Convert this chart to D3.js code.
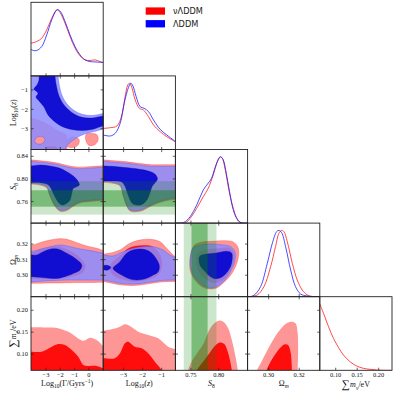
<!DOCTYPE html>
<html><head><meta charset="utf-8">
<script src="https://cdn.jsdelivr.net/npm/d3@7"></script>
<style>body{margin:0;background:#fff}svg{display:block}</style>
</head><body>
<svg id="c" width="396" height="395"></svg>
<script>
// ---------------- DATA ----------------
const paramRanges = [[-4.05, 1.0], [-4.07, -0.28], [0.722, 0.852], [0.2862, 0.3335], [0.063, 0.231]];
const xTickVals = [[-3,-2,-1,0],[-3,-2,-1],[0.75,0.80],[0.30,0.32],[0.10,0.15,0.20]];
const xTickText = [["−3","−2","−1","0"],["−3","−2","−1"],["0.75","0.80"],["0.30","0.32"],["0.10","0.15","0.20"]];
const yTickVals = [[],[-3,-2,-1],[0.76,0.80,0.84],[0.30,0.31,0.32],[0.10,0.15,0.20]];
const yTickText = [[],["−3","−2","−1"],["0.76","0.80","0.84"],["0.30","0.31","0.32"],["0.10","0.15","0.20"]];
const seriesNames = ["νΛDDM", "ΛDDM"];
const s8Band1 = [0.751, 0.780];
const s8Band2 = [0.737, 0.796];

// 1D marginals [value, relative density]
const gamma1dRed = [[-4.05,0.493],[-3.65,0.518],[-3.30,0.569],[-2.95,0.695],[-2.60,0.871],[-2.30,0.987],[-2.21,0.997],[-2.02,0.956],[-1.67,0.795],[-1.32,0.594],[-0.97,0.418],[-0.62,0.302],[-0.27,0.242],[0.08,0.232],[0.43,0.242],[0.78,0.216],[1.0,0.201]];
const gamma1dBlue = [[-4.05,0.403],[-3.89,0.383],[-3.65,0.383],[-3.30,0.443],[-2.95,0.619],[-2.60,0.846],[-2.30,0.982],[-2.19,1.0],[-1.98,0.967],[-1.67,0.821],[-1.32,0.619],[-0.97,0.443],[-0.62,0.317],[-0.27,0.242],[0.08,0.216],[0.43,0.211],[0.78,0.206],[1.0,0.201]];
const logz1dRed = [[-4.07,0.318],[-3.70,0.329],[-3.35,0.354],[-3.09,0.520],[-2.92,0.797],[-2.78,0.973],[-2.69,0.998],[-2.57,0.938],[-2.39,0.747],[-2.17,0.621],[-1.96,0.596],[-1.69,0.495],[-1.43,0.370],[-1.08,0.269],[-0.73,0.193],[-0.38,0.133],[-0.28,0.118]];
const logz1dBlue = [[-4.07,0.219],[-3.70,0.204],[-3.44,0.244],[-3.18,0.395],[-2.97,0.696],[-2.74,0.938],[-2.62,1.0],[-2.51,0.958],[-2.34,0.797],[-2.13,0.646],[-1.92,0.621],[-1.69,0.571],[-1.43,0.445],[-1.08,0.304],[-0.73,0.219],[-0.38,0.143],[-0.28,0.118]];
const s81dRed = [[0.722,0],[0.7397,0.003],[0.7486,0.072],[0.7604,0.223],[0.7722,0.399],[0.7811,0.524],[0.7900,0.725],[0.7988,0.952],[0.8030,1.0],[0.8065,0.977],[0.8124,0.776],[0.8183,0.499],[0.8254,0.248],[0.8313,0.097],[0.8372,0.022],[0.8431,0],[0.852,0]];
const s81dBlue = [[0.722,0],[0.735,0.005],[0.7397,0.022],[0.7486,0.097],[0.7604,0.273],[0.7722,0.499],[0.7870,0.675],[0.7929,0.826],[0.7988,0.952],[0.8030,1.0],[0.8077,0.962],[0.8136,0.751],[0.8195,0.474],[0.8254,0.223],[0.8313,0.087],[0.8372,0.017],[0.8431,0],[0.852,0]];
const om1dRed = [[0.2862,0],[0.2871,0],[0.2925,0.026],[0.2969,0.151],[0.3013,0.453],[0.3045,0.755],[0.3067,0.956],[0.3085,1.0],[0.3100,0.981],[0.3122,0.830],[0.3155,0.503],[0.3187,0.252],[0.3220,0.101],[0.3253,0.026],[0.3297,0],[0.3335,0]];
const om1dBlue = [[0.2862,0],[0.2871,0],[0.2903,0.02],[0.2947,0.151],[0.2991,0.503],[0.3024,0.805],[0.3052,0.981],[0.3067,1.0],[0.3085,0.966],[0.3111,0.755],[0.3144,0.403],[0.3176,0.151],[0.3209,0.041],[0.3253,0.01],[0.3297,0],[0.3335,0]];
const mnu1dRed = [[0.063,1.0],[0.0717,0.859],[0.0833,0.658],[0.0948,0.482],[0.1064,0.346],[0.1180,0.231],[0.1334,0.130],[0.1488,0.065],[0.1642,0.030],[0.1797,0.015],[0.1951,0.005],[0.2105,0.0],[0.231,0.0]];

// 2D: log10(z) vs log10(Gamma)
const zgBlue2 = [[-4.3,-0.1],[-2.17,-0.1],[-2.16,-0.28],[-2.06,-0.80],[-1.88,-1.29],[-1.53,-1.73],[-1.04,-2.06],[-0.41,-2.27],[0.22,-2.32],[1.0,-2.22],[1.2,-2.18],[1.2,-2.98],[1.0,-3.01],[0.50,-3.12],[-0.06,-3.22],[-0.62,-3.37],[-1.18,-3.63],[-1.53,-3.86],[-1.67,-4.07],[-1.70,-4.3],[-4.3,-4.3]];
const zgBlue2Hole = [[-3.70,-3.48],[-3.28,-3.40],[-3.07,-3.58],[-3.35,-3.79],[-3.77,-3.71]];
const zgBlue1 = [[-3.49,-0.1],[-2.37,-0.1],[-2.37,-0.285],[-2.27,-0.80],[-2.09,-1.315],[-1.74,-1.78],[-1.22,-2.15],[-0.55,-2.40],[0.15,-2.45],[1.0,-2.345],[1.2,-2.33],[1.2,-2.87],[1.0,-2.86],[0.19,-3.04],[-0.50,-3.09],[-1.20,-3.04],[-1.88,-2.885],[-2.37,-2.65],[-2.86,-2.29],[-3.14,-1.88],[-3.49,-1.57],[-3.70,-1.37],[-3.56,-1.16],[-3.84,-0.955],[-3.63,-0.75],[-3.49,-0.49],[-3.49,-0.285]];
const zgRed2 = [[-4.3,-2.44],[-4.05,-2.45],[-3.07,-2.71],[-2.16,-3.12],[-1.60,-3.32],[-1.58,-3.7],[-1.60,-4.3],[-4.3,-4.3]];
const zgRed2B = [[-0.20,-3.30],[0.22,-3.25],[0.57,-3.32],[0.64,-3.58],[0.43,-3.81],[0.01,-3.86],[-0.20,-3.63]];
const zgRed2C = [[-1.46,-3.53],[-1.04,-3.43],[-0.69,-3.55],[-0.76,-3.84],[-1.18,-3.97],[-1.53,-3.89]];
const zgRed1 = [[-2.93,-4.2],[-2.93,-3.96],[-2.51,-3.92],[-2.23,-3.97],[-2.23,-4.2]];

// 2D: S8 vs log10(Gamma)
const sgBlue2Top = [[-4.3,0.8315],[-4.05,0.8312],[-3.54,0.8299],[-2.84,0.8281],[-2.14,0.8251],[-1.44,0.8206],[-0.74,0.8181],[0.19,0.8193],[1.0,0.8206],[1.2,0.8208]];
const sgBlue2Bot = [[1.2,0.7642],[1.0,0.7640],[0.31,0.7628],[-0.155,0.7615],[-0.62,0.7598],[-1.09,0.7539],[-1.55,0.7463],[-2.02,0.7451],[-2.37,0.7539],[-2.72,0.7716],[-2.95,0.7863],[-3.42,0.7910],[-4.05,0.7928],[-4.3,0.7930]];
const sgRed2Top = [[-4.3,0.8340],[-4.05,0.8337],[-3.54,0.8324],[-2.84,0.8306],[-2.14,0.8277],[-1.44,0.8232],[-0.74,0.8208],[0.19,0.8220],[1.0,0.8232],[1.2,0.8234]];
const sgRed2Bot = [[1.2,0.7622],[1.0,0.7620],[0.31,0.7608],[-0.155,0.7596],[-0.62,0.7578],[-1.09,0.7518],[-1.55,0.7442],[-2.02,0.7430],[-2.37,0.7516],[-2.72,0.7696],[-2.95,0.7845],[-3.42,0.7892],[-4.05,0.7910],[-4.3,0.7912]];
const sgBlue1 = [[-4.3,0.8228],[-4.05,0.8228],[-3.42,0.8246],[-2.72,0.8228],[-2.02,0.8188],[-1.55,0.8128],[-1.09,0.8052],[-0.74,0.7951],[-0.67,0.7893],[-0.85,0.7863],[-1.09,0.7834],[-1.20,0.7746],[-1.32,0.7628],[-1.55,0.7569],[-1.79,0.7539],[-2.02,0.7557],[-2.25,0.7628],[-2.49,0.7746],[-2.72,0.7863],[-2.95,0.7910],[-3.42,0.7933],[-4.05,0.7933],[-4.3,0.7933]];

// 2D: S8 vs log10(z)
const szBlue2Top = [[-4.3,0.8315],[-4.07,0.8312],[-3.63,0.8299],[-2.93,0.8281],[-2.23,0.8251],[-1.53,0.8223],[-0.80,0.8223],[-0.28,0.8223],[-0.1,0.8223]];
const szBlue2Bot = [[-0.1,0.7665],[-0.28,0.7663],[-0.83,0.7633],[-1.36,0.7575],[-1.71,0.7516],[-2.05,0.7456],[-2.41,0.7439],[-2.67,0.7456],[-2.84,0.7545],[-3.02,0.7721],[-3.19,0.7898],[-3.63,0.7946],[-4.07,0.7958],[-4.3,0.7960]];
const szRed2Top = [[-4.3,0.8340],[-4.07,0.8337],[-3.63,0.8324],[-2.93,0.8306],[-2.23,0.8276],[-1.53,0.8250],[-0.80,0.8252],[-0.28,0.8252],[-0.1,0.8252]];
const szRed2Bot = [[-0.1,0.7643],[-0.28,0.7641],[-0.83,0.7612],[-1.36,0.7555],[-1.71,0.7496],[-2.05,0.7436],[-2.41,0.7419],[-2.67,0.7436],[-2.84,0.7525],[-3.02,0.7700],[-3.19,0.7878],[-3.63,0.7928],[-4.07,0.7940],[-4.3,0.7942]];
const szBlue1 = [[-4.3,0.8228],[-4.07,0.8228],[-3.46,0.8220],[-2.93,0.8202],[-2.23,0.8175],[-1.71,0.8140],[-1.36,0.8087],[-1.22,0.7999],[-1.36,0.7928],[-1.49,0.7875],[-1.62,0.7751],[-1.78,0.7628],[-2.04,0.7548],[-2.32,0.7539],[-2.56,0.7575],[-2.76,0.7716],[-2.93,0.7875],[-3.10,0.7946],[-3.46,0.7963],[-4.07,0.7963],[-4.3,0.7963]];

// 2D: Omega_m vs log10(Gamma)
const ogRed2Top = [[-4.3,0.3180],[-4.05,0.3188],[-3.42,0.3209],[-2.72,0.3226],[-2.02,0.3235],[-1.55,0.3231],[-0.85,0.3209],[-0.155,0.3188],[0.54,0.3173],[1.0,0.3158],[1.2,0.3152]];
const ogRed2Bot = [[1.2,0.2955],[1.0,0.2955],[-0.2,0.2953],[-1.5,0.2952],[-2.8,0.2950],[-4.05,0.2948],[-4.3,0.2948]];
const ogBlue2Top = [[-4.3,0.3145],[-4.05,0.3151],[-3.42,0.3167],[-2.72,0.3183],[-2.02,0.3194],[-1.55,0.3188],[-0.85,0.3173],[-0.155,0.3162],[0.54,0.3151],[1.0,0.3141],[1.2,0.3137]];
const ogBlue2Bot = [[1.2,0.2969],[1.0,0.2969],[-0.5,0.2969],[-1.55,0.2969],[-2.72,0.2965],[-4.05,0.2958],[-4.3,0.2958]];
const ogRed1 = [[-4.3,0.3143],[-4.05,0.3143],[-3.21,0.3169],[-2.16,0.3185],[-1.46,0.3162],[-0.76,0.3124],[-0.27,0.3066],[-0.41,0.3021],[-1.32,0.2989],[-2.37,0.2976],[-4.05,0.2979],[-4.3,0.2979]];
const ogBlue1 = [[-4.3,0.3130],[-4.05,0.3130],[-3.65,0.3130],[-3.19,0.3151],[-2.72,0.3167],[-2.13,0.3167],[-1.55,0.3141],[-0.97,0.3109],[-0.50,0.3066],[-0.62,0.3034],[-0.97,0.3016],[-1.55,0.2995],[-2.13,0.2980],[-2.72,0.2980],[-3.42,0.2987],[-4.05,0.2991],[-4.3,0.2991]];

// 2D: Omega_m vs log10(z)
const ozRed2Top = [[-4.3,0.3134],[-4.07,0.3136],[-3.72,0.3141],[-3.19,0.3162],[-2.67,0.3205],[-2.14,0.3226],[-1.62,0.3231],[-1.09,0.3215],[-0.74,0.3173],[-0.40,0.3130],[-0.28,0.3119],[-0.1,0.3105]];
const ozRed2Bot = [[-0.1,0.2958],[-0.28,0.2960],[-1.09,0.2956],[-1.79,0.2943],[-2.50,0.2934],[-3.19,0.2939],[-4.07,0.2960],[-4.3,0.2962]];
const ozBlue2Top = [[-4.3,0.3130],[-4.07,0.3130],[-3.55,0.3124],[-3.02,0.3151],[-2.50,0.3173],[-1.97,0.3183],[-1.45,0.3183],[-0.92,0.3162],[-0.57,0.3130],[-0.28,0.3115],[-0.1,0.3108]];
const ozBlue2Bot = [[-0.1,0.2969],[-0.28,0.2969],[-1.09,0.2965],[-1.79,0.2952],[-2.50,0.2943],[-3.19,0.2948],[-4.07,0.2969],[-4.3,0.2969]];
const ozRed1 = [[-3.72,0.3060],[-3.19,0.3124],[-2.67,0.3176],[-1.98,0.3191],[-1.46,0.3182],[-1.09,0.3130],[-0.99,0.3060],[-1.20,0.3001],[-2.14,0.2963],[-2.93,0.2969],[-3.61,0.3008]];
const ozBlue1 = [[-3.55,0.3045],[-3.19,0.3087],[-2.84,0.3141],[-2.50,0.3162],[-1.97,0.3167],[-1.62,0.3151],[-1.36,0.3119],[-1.13,0.3066],[-1.18,0.3023],[-1.45,0.3001],[-1.79,0.2980],[-2.32,0.2969],[-2.76,0.2980],[-3.10,0.3001],[-3.46,0.3029]];
const ozBlue1b = [[-4.3,0.3063],[-4.07,0.3063],[-3.82,0.3063],[-3.67,0.3050],[-3.82,0.3034],[-4.07,0.3034],[-4.3,0.3034]];

// 2D: Omega_m vs S8
const osRed2 = [[0.7570,0.3196],[0.7719,0.3214],[0.7899,0.3218],[0.8079,0.3222],[0.8260,0.3214],[0.8350,0.3175],[0.8350,0.3111],[0.8290,0.3046],[0.8200,0.2993],[0.8079,0.2950],[0.7961,0.2918],[0.7809,0.2913],[0.7690,0.2929],[0.7570,0.2971],[0.7492,0.3025],[0.7479,0.3090],[0.7510,0.3154]];
const osRed1 = [[0.7629,0.3143],[0.7780,0.3164],[0.7989,0.3171],[0.8188,0.3175],[0.8272,0.3143],[0.8260,0.3079],[0.8188,0.3021],[0.8079,0.2971],[0.7930,0.2950],[0.7780,0.2971],[0.7660,0.3014],[0.7600,0.3067]];
const osBlue2 = [[0.7539,0.3175],[0.7690,0.3196],[0.7870,0.3201],[0.8051,0.3196],[0.8200,0.3186],[0.8290,0.3154],[0.8290,0.3090],[0.8231,0.3036],[0.8141,0.2982],[0.8020,0.2939],[0.7870,0.2918],[0.7750,0.2929],[0.7629,0.2961],[0.7539,0.3003],[0.7492,0.3068],[0.7497,0.3132]];
const osBlue1 = [[0.7660,0.3122],[0.7780,0.3136],[0.7961,0.3143],[0.8141,0.3154],[0.8231,0.3143],[0.8242,0.3100],[0.8200,0.3046],[0.8110,0.3003],[0.8020,0.2982],[0.7930,0.2978],[0.7840,0.2993],[0.7750,0.3025],[0.7672,0.3057],[0.7647,0.3090]];

// 2D: sum m_nu (nu-LDDM only), upper edges of regions
const mgRed2 = [[-4.3,0.1611],[-4.05,0.1611],[-3.07,0.1607],[-2.37,0.1602],[-1.44,0.1511],[-0.39,0.1305],[0.08,0.1374],[0.54,0.1321],[1.0,0.1184],[1.2,0.1140]];
const mgRed1 = [[-4.3,0.1054],[-4.05,0.1054],[-3.30,0.1054],[-2.60,0.1168],[-2.14,0.1230],[-1.67,0.1207],[-1.20,0.1093],[-0.74,0.0940],[-0.39,0.0751],[-0.04,0.0728],[0.54,0.0728],[1.0,0.0675],[1.2,0.0660]];
const mzRed2 = [[-4.3,0.1530],[-4.07,0.1534],[-3.63,0.1566],[-3.19,0.1625],[-2.93,0.1680],[-2.67,0.1641],[-2.23,0.1511],[-1.71,0.1436],[-1.18,0.1360],[-0.66,0.1168],[-0.28,0.1109],[-0.1,0.1080]];
const mzRed1 = [[-4.3,0.0904],[-4.07,0.0904],[-3.46,0.0904],[-3.19,0.1018],[-2.93,0.1246],[-2.76,0.1283],[-2.41,0.1168],[-2.05,0.1132],[-1.71,0.1018],[-1.36,0.0826],[-1.0,0.0630],[-0.9,0.0500]];
const msRed2 = [[0.7440,0.05],[0.7449,0.063],[0.7510,0.0826],[0.7629,0.1054],[0.7732,0.1253],[0.7804,0.1481],[0.7876,0.1641],[0.7948,0.1732],[0.8020,0.1767],[0.8092,0.1732],[0.8170,0.1589],[0.8236,0.1321],[0.8290,0.1018],[0.8344,0.063],[0.8350,0.05]];
const msRed1 = [[0.7590,0.05],[0.7606,0.063],[0.7714,0.0819],[0.7822,0.1002],[0.7930,0.1184],[0.8020,0.1264],[0.8101,0.1230],[0.8164,0.1047],[0.8209,0.0819],[0.8236,0.063],[0.8245,0.05]];
const moRed2 = [[0.2915,0.05],[0.2924,0.063],[0.2953,0.0826],[0.2986,0.1054],[0.3029,0.1321],[0.3073,0.1549],[0.3117,0.1703],[0.3150,0.1739],[0.3176,0.1703],[0.3189,0.1511],[0.3193,0.1168],[0.3190,0.063],[0.3189,0.05]];
const moRed1 = [[0.2978,0.05],[0.2986,0.063],[0.3007,0.0789],[0.3040,0.0979],[0.3073,0.1132],[0.3106,0.1223],[0.3127,0.1207],[0.3143,0.1054],[0.3150,0.0826],[0.3152,0.063],[0.3152,0.05]];

// ---------------- DRAWING ----------------
const svg = d3.select("#c");
const L = 31, T = 2.3, PW = 72.2, PH = 73.6, N = 5;
const SERIF = "'Liberation Serif','DejaVu Serif',serif";
const col = {
  red2: "rgb(255,150,150)", red1: "rgb(255,0,0)",
  blue2: "rgb(140,140,255)", blue1: "rgb(8,6,208)",
  green: "rgb(0,128,0)", redLine: "rgb(255,30,30)", blueLine: "rgb(30,30,255)"
};
const xs = paramRanges.map((r,i) => d3.scaleLinear().domain(r).range([L+i*PW, L+(i+1)*PW]));
const ys = paramRanges.map((r,i) => d3.scaleLinear().domain(r).range([T+(i+1)*PH, T+i*PH]));
const pyScale = i => d3.scaleLinear().domain([0,1.11]).range([T+(i+1)*PH, T+i*PH]);
const defs = svg.append("defs");

function panel(i, j){
  const id = "clip"+i+"_"+j;
  defs.append("clipPath").attr("id", id).append("rect")
    .attr("x", L+j*PW).attr("y", T+i*PH).attr("width", PW).attr("height", PH);
  return svg.append("g").attr("clip-path", "url(#"+id+")");
}
function lineGen(sx, sy, closed){
  return d3.line().x(d=>sx(d[0])).y(d=>sy(d[1]))
    .curve(closed ? d3.curveCatmullRomClosed.alpha(0.5) : d3.curveCatmullRom.alpha(0.5));
}
function shapeD(pts, sx, sy, closed){ return lineGen(sx, sy, closed)(pts) + (closed ? "" : "Z"); }
function bandD(top, bot, sx, sy){
  const l = lineGen(sx, sy, false);
  return l(top) + l(bot).replace(/^M/, "L") + "Z";
}
function fillPath(g, d, fill, op, stroke, sw){
  g.append("path").attr("d", d).attr("fill", fill).attr("fill-opacity", op)
   .attr("fill-rule", "evenodd")
   .attr("stroke", stroke || "none").attr("stroke-width", sw || 0).attr("stroke-opacity", 0.85);
}
const R2 = (g,d)=>fillPath(g,d,col.red2,1,"rgb(255,70,70)",0.5);
const R1 = (g,d)=>fillPath(g,d,col.red1,0.92,"rgb(230,0,0)",0.4);
const B2 = (g,d)=>fillPath(g,d,col.blue2,0.85,"rgb(90,90,255)",0.5);
const B1 = (g,d)=>fillPath(g,d,col.blue1,0.93,"rgb(0,0,170)",0.4);

function hBand(g, j, i){
  const sx = xs[j], sy = ys[i];
  [[s8Band2,0.2],[s8Band1,0.4]].forEach(([b,op])=>{
    g.append("rect").attr("x", sx.range()[0]).attr("width", PW)
      .attr("y", sy(b[1])).attr("height", sy(b[0]) - sy(b[1]))
      .attr("fill", col.green).attr("fill-opacity", op);
  });
}
function vBand(g, j, i){
  const sx = xs[j], sy = ys[i];
  [[s8Band2,0.2],[s8Band1,0.4]].forEach(([b,op])=>{
    g.append("rect").attr("y", sy.range()[1]).attr("height", PH)
      .attr("x", sx(b[0])).attr("width", sx(b[1]) - sx(b[0]))
      .attr("fill", col.green).attr("fill-opacity", op);
  });
}

// ---- 1D panels ----
const oneD = [[gamma1dRed, gamma1dBlue],[logz1dRed, logz1dBlue],[s81dRed, s81dBlue],[om1dRed, om1dBlue],[mnu1dRed, null]];
oneD.forEach((pair, i)=>{
  const g = panel(i, i);
  const sy = pyScale(i);
  const l = d3.line().x(d=>xs[i](d[0])).y(d=>sy(d[1])).curve(d3.curveCatmullRom.alpha(0.5));
  if (pair[0]) g.append("path").attr("d", l(pair[0])).attr("fill","none").attr("stroke", col.redLine).attr("stroke-width", 0.8);
  if (pair[1]) g.append("path").attr("d", l(pair[1])).attr("fill","none").attr("stroke", col.blueLine).attr("stroke-width", 0.8);
});

// ---- 2D panels ----
{ // row1 col0
  const g = panel(1,0), sx = xs[0], sy = ys[1];
  R2(g, shapeD(zgRed2, sx, sy));
  R2(g, shapeD(zgRed2B, sx, sy, true));
  R2(g, shapeD(zgRed2C, sx, sy, true));
  R1(g, shapeD(zgRed1, sx, sy));
  B2(g, shapeD(zgBlue2, sx, sy) + shapeD(zgBlue2Hole, sx, sy, true));
  B1(g, shapeD(zgBlue1, sx, sy));
}
{ // row2 col0
  const g = panel(2,0), sx = xs[0], sy = ys[2];
  R2(g, bandD(sgRed2Top, sgRed2Bot, sx, sy));
  B2(g, bandD(sgBlue2Top, sgBlue2Bot, sx, sy));
  B1(g, shapeD(sgBlue1, sx, sy));
  hBand(g, 0, 2);
}
{ // row2 col1
  const g = panel(2,1), sx = xs[1], sy = ys[2];
  R2(g, bandD(szRed2Top, szRed2Bot, sx, sy));
  B2(g, bandD(szBlue2Top, szBlue2Bot, sx, sy));
  B1(g, shapeD(szBlue1, sx, sy));
  hBand(g, 1, 2);
}
{ // row3 col0
  const g = panel(3,0), sx = xs[0], sy = ys[3];
  R2(g, bandD(ogRed2Top, ogRed2Bot, sx, sy));
  R1(g, shapeD(ogRed1, sx, sy));
  B2(g, bandD(ogBlue2Top, ogBlue2Bot, sx, sy));
  B1(g, shapeD(ogBlue1, sx, sy));
}
{ // row3 col1
  const g = panel(3,1), sx = xs[1], sy = ys[3];
  R2(g, bandD(ozRed2Top, ozRed2Bot, sx, sy));
  R1(g, shapeD(ozRed1, sx, sy, true));
  B2(g, bandD(ozBlue2Top, ozBlue2Bot, sx, sy));
  B1(g, shapeD(ozBlue1, sx, sy, true));
  B1(g, shapeD(ozBlue1b, sx, sy));
}
{ // row3 col2
  const g = panel(3,2), sx = xs[2], sy = ys[3];
  R2(g, shapeD(osRed2, sx, sy, true));
  R1(g, shapeD(osRed1, sx, sy, true));
  B2(g, shapeD(osBlue2, sx, sy, true));
  B1(g, shapeD(osBlue1, sx, sy, true));
  vBand(g, 2, 3);
}
// row4: areas under upper edges
[[0, mgRed2, mgRed1],[1, mzRed2, mzRed1],[2, msRed2, msRed1],[3, moRed2, moRed1]].forEach(([j, r2, r1])=>{
  const g = panel(4, j), sx = xs[j], sy = ys[4];
  const area = d3.area().x(d=>sx(d[0])).y0(sy.range()[0]+6).y1(d=>sy(d[1])).curve(d3.curveCatmullRom.alpha(0.5));
  fillPath(g, area(r2), col.red2, 1, "none", 0);
  fillPath(g, area(r1), col.red1, 0.92, "none", 0);
  if (j === 2) vBand(g, 2, 4);
});

// ---- frames and ticks ----
const frame = svg.append("g");
for (let i = 0; i < N; i++) for (let j = 0; j <= i; j++) {
  const x0 = L+j*PW, y0 = T+i*PH, x1 = x0+PW, y1 = y0+PH, tl = 2.6;
  frame.append("rect").attr("x", x0).attr("y", y0).attr("width", PW).attr("height", PH)
    .attr("fill","none").attr("stroke","#222").attr("stroke-width", 0.9);
  xTickVals[j].forEach(v=>{
    const x = xs[j](v);
    frame.append("line").attr("x1",x).attr("x2",x).attr("y1",y1).attr("y2",y1-tl).attr("stroke","#222").attr("stroke-width",0.7);
    if (i !== j) frame.append("line").attr("x1",x).attr("x2",x).attr("y1",y0).attr("y2",y0+tl).attr("stroke","#222").attr("stroke-width",0.7);
  });
  if (i !== j) yTickVals[i].forEach(v=>{
    const y = ys[i](v);
    frame.append("line").attr("y1",y).attr("y2",y).attr("x1",x0).attr("x2",x0+tl).attr("stroke","#222").attr("stroke-width",0.7);
    frame.append("line").attr("y1",y).attr("y2",y).attr("x1",x1).attr("x2",x1-tl).attr("stroke","#222").attr("stroke-width",0.7);
  });
}

// ---- tick labels ----
const lab = svg.append("g").attr("font-family", SERIF).attr("fill", "#111");
for (let j = 0; j < N; j++) xTickVals[j].forEach((v,k)=>{
  lab.append("text").attr("x", xs[j](v)).attr("y", 377.4).attr("text-anchor","middle")
    .attr("font-size", 6.4).text(xTickText[j][k]);
});
for (let i = 1; i < N; i++) yTickVals[i].forEach((v,k)=>{
  lab.append("text").attr("x", 28).attr("y", ys[i](v)+2.2).attr("text-anchor","end")
    .attr("font-size", 6.4).text(yTickText[i][k]);
});

// ---- axis titles ----
const titles = [
  [{t:"Log"},{t:"10",sub:1},{t:"(Γ/Gyrs"},{t:"−1",sup:1},{t:")"}],
  [{t:"Log"},{t:"10",sub:1},{t:"("},{t:"z",it:1},{t:")"}],
  [{t:"S",it:1},{t:"8",sub:1}],
  [{t:"Ω"},{t:"m",sub:1,it:1}],
  [{t:"∑",big:1},{t:"m",it:1},{t:"ν",sub:1,it:1},{t:"/eV"}]
];
function rich(parent, x, y, parts, size){
  const t = parent.append("text").attr("x", x).attr("y", y).attr("text-anchor","middle")
    .attr("font-size", size).attr("font-family", SERIF).attr("fill", "#111");
  let shift = 0;
  parts.forEach(p=>{
    const s = p.sub ? size*0.32 : p.sup ? -size*0.4 : (p.big ? size*0.12 : 0);
    const ts = t.append("tspan").attr("dy", s - shift).text(p.t);
    if (p.sub || p.sup) ts.attr("font-size", size*0.7);
    if (p.big) ts.attr("font-size", size*1.45);
    if (p.it) ts.attr("font-style", "italic");
    shift = s;
  });
  return t;
}
for (let j = 0; j < N; j++) rich(svg, L+(j+0.5)*PW, j===4 ? 387 : 385.8, titles[j], 8);
for (let i = 1; i < N; i++) {
  const g = svg.append("g").attr("transform", `translate(${i===4?16:15.5},${T+(i+0.5)*PH}) rotate(-90)`);
  rich(g, 0, 0, titles[i], 8);
}

// ---- legend ----
const leg = svg.append("g");
[col.red1, "rgb(0,0,255)"].forEach((c,k)=>{
  leg.append("rect").attr("x", 145.7).attr("y", 7.4 + k*12.7).attr("width", 19.3).attr("height", 7.3).attr("fill", c);
  leg.append("text").attr("x", 173).attr("y", 14.2 + k*12.7).attr("font-size", 8.2)
    .attr("font-family", "'DejaVu Sans',sans-serif").attr("fill", "#222").text(seriesNames[k]);
});
</script>
</body></html>
